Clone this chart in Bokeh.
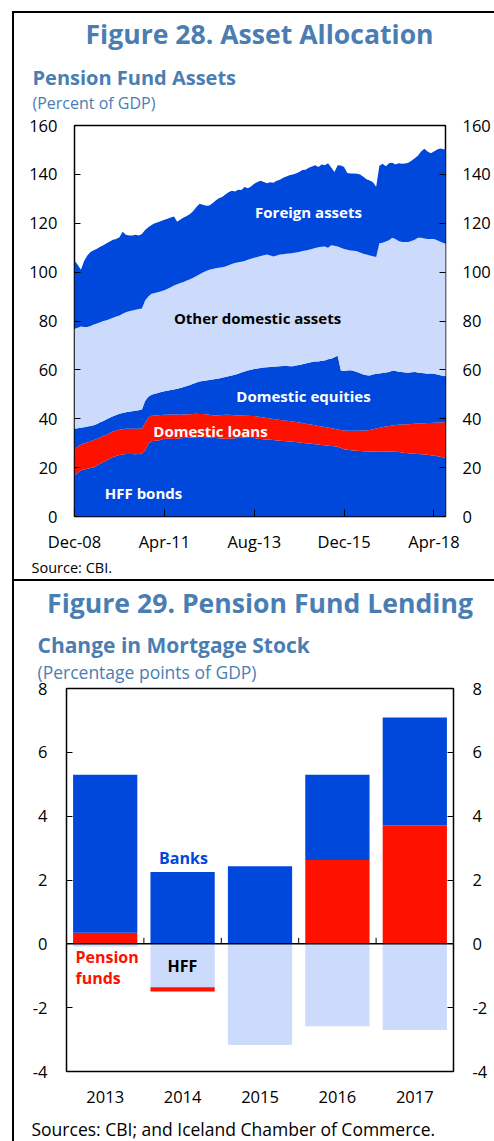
import numpy as np
from bokeh.plotting import figure
from bokeh.layouts import column
from bokeh.models import Range1d, LinearAxis, FixedTicker, Label, Span
from bokeh.embed import file_html
from bokeh.resources import INLINE

# ---------------- Figure 28 data (percent of GDP, stack boundaries, monthly Dec-08 .. Aug-18) -------------
months = list(range(117))
tick_months = [0, 28, 56, 84, 112]
tick_labels_28 = ["Dec-08", "Apr-11", "Aug-13", "Dec-15", "Apr-18"]

hff_top = [16.8, 17.8, 18.8, 19.2, 19.5, 19.8, 20.2, 20.9, 21.6, 22.3,
           22.9, 23.6, 24.3, 24.8, 25.2, 25.4, 25.6, 25.6, 25.6, 25.5,
           25.6, 25.8, 27.0, 29.7, 30.8, 31.0, 31.1, 31.4, 31.8, 31.8,
           31.8, 31.7, 31.8, 32.0, 32.1, 32.2, 32.2, 32.3, 32.4, 32.5,
           32.5, 32.4, 32.3, 32.2, 32.1, 32.0, 31.9, 31.8, 31.8, 31.9,
           32.0, 32.1, 32.2, 32.2, 32.1, 32.1, 32.1, 31.8, 31.7, 31.6,
           31.5, 31.4, 31.3, 31.1, 31.0, 30.9, 30.8, 30.7, 30.6, 30.5,
           30.3, 30.2, 30.0, 29.9, 29.8, 29.6, 29.5, 29.3, 29.2, 29.0,
           28.9, 28.7, 28.5, 28.0, 27.5, 27.3, 27.1, 27.0, 26.9, 26.8,
           26.7, 26.6, 26.6, 26.6, 26.5, 26.5, 26.6, 26.6, 26.6, 26.5,
           26.5, 26.4, 26.2, 26.0, 25.9, 25.8, 25.7, 25.6, 25.5, 25.4,
           25.3, 25.1, 25.0, 24.7, 24.4, 24.1, 24.0]

loans_top = [27.5, 28.5, 29.5, 30.0, 30.3, 30.8, 31.3, 31.8, 32.3, 33.0,
             33.5, 34.2, 34.8, 35.2, 35.5, 35.7, 35.9, 35.9, 35.9, 35.9,
             35.9, 36.0, 38.3, 40.5, 41.2, 41.3, 41.4, 41.5, 41.6, 41.6,
             41.7, 41.7, 41.7, 41.6, 41.7, 41.8, 41.8, 41.9, 42.0, 41.9,
             41.9, 41.8, 41.6, 41.4, 41.3, 41.4, 41.5, 41.6, 41.6, 41.5,
             41.4, 41.3, 41.3, 41.2, 41.2, 41.1, 41.1, 40.9, 40.7, 40.5,
             40.3, 40.1, 39.9, 39.7, 39.5, 39.4, 39.2, 39.1, 38.9, 38.7,
             38.5, 38.3, 38.0, 37.8, 37.5, 37.3, 37.0, 36.8, 36.6, 36.4,
             36.1, 35.9, 35.6, 35.4, 35.2, 35.1, 35.1, 35.1, 35.1, 35.1,
             35.2, 35.2, 35.4, 35.7, 36.0, 36.3, 36.6, 36.8, 37.0, 37.2,
             37.4, 37.5, 37.6, 37.7, 37.8, 37.9, 38.0, 38.1, 38.2, 38.2,
             38.3, 38.3, 38.4, 38.5, 38.5, 38.6, 38.6]

equities_top = [35.9, 36.1, 36.3, 36.5, 36.8, 37.0, 37.3, 37.9, 38.6, 39.1,
                39.8, 40.4, 41.0, 41.5, 42.0, 42.4, 42.7, 42.9, 43.1, 43.3,
                43.5, 43.8, 47.3, 49.0, 49.8, 50.2, 50.5, 50.9, 51.3, 51.5,
                51.8, 52.0, 52.3, 52.6, 53.0, 53.4, 53.8, 54.3, 54.8, 55.2,
                55.4, 55.7, 55.9, 56.1, 56.3, 56.5, 56.8, 57.1, 57.4, 57.7,
                58.0, 58.4, 58.9, 59.3, 59.7, 60.1, 60.4, 60.6, 60.8, 61.0,
                61.1, 61.2, 61.3, 61.4, 61.5, 61.6, 61.7, 61.5, 61.5, 61.8,
                62.0, 62.3, 62.6, 62.9, 63.2, 63.4, 63.4, 63.7, 63.8, 64.3,
                64.6, 65.2, 65.8, 59.7, 59.5, 59.7, 59.8, 59.5, 59.1, 58.6,
                58.1, 57.8, 57.7, 58.1, 58.4, 58.5, 58.7, 58.9, 59.1, 59.6,
                59.5, 59.2, 59.1, 58.9, 58.8, 59.0, 59.1, 58.9, 58.7, 58.6,
                58.4, 58.5, 58.4, 58.1, 57.8, 57.5, 57.4]

other_top = [76.8, 77.2, 77.8, 77.5, 77.5, 78.0, 78.6, 79.0, 79.5, 80.0,
             80.3, 80.8, 81.3, 81.8, 82.3, 83.0, 83.6, 84.0, 84.3, 84.6,
             84.9, 85.1, 88.4, 90.0, 91.1, 91.5, 91.8, 92.2, 92.6, 93.2,
             93.8, 94.5, 95.0, 95.5, 96.0, 96.6, 97.1, 97.7, 98.4, 99.1,
             99.8, 100.5, 101.0, 101.3, 101.6, 101.8, 102.0, 102.3, 102.8, 103.3,
             103.7, 104.0, 104.2, 104.6, 105.1, 105.5, 105.9, 106.2, 106.6, 106.9,
             107.2, 106.8, 106.4, 106.8, 107.2, 107.3, 107.5, 107.6, 107.8, 108.0,
             108.2, 108.6, 108.9, 109.2, 109.5, 109.9, 110.2, 110.4, 110.5, 110.0,
             111.0, 110.8, 110.5, 110.0, 109.5, 109.2, 108.9, 108.7, 108.5, 108.0,
             107.5, 107.2, 106.8, 106.5, 106.2, 111.8, 112.0, 112.5, 113.0, 114.1,
             113.6, 112.7, 112.3, 112.3, 112.3, 112.7, 113.2, 114.1, 114.1, 113.8,
             113.6, 113.6, 113.6, 113.0, 112.4, 111.9, 111.7]

foreign_top = [104.8, 103.0, 101.0, 104.6, 106.8, 108.2, 109.0, 109.6, 110.4, 111.0,
               111.8, 112.5, 113.2, 113.6, 114.3, 116.5, 115.3, 115.0, 115.0, 115.3,
               115.0, 115.6, 117.2, 118.4, 119.3, 120.0, 120.4, 120.9, 121.4, 121.8,
               122.4, 122.8, 120.6, 121.5, 122.4, 123.0, 123.8, 125.0, 126.6, 128.0,
               127.6, 127.2, 127.3, 128.2, 129.3, 130.2, 130.7, 131.8, 132.7, 133.3,
               133.0, 133.7, 133.6, 134.8, 134.3, 135.0, 136.2, 136.9, 137.4, 136.9,
               136.4, 136.8, 136.6, 137.4, 137.8, 138.6, 139.1, 139.6, 140.0, 140.4,
               141.0, 141.8, 141.9, 142.7, 143.2, 143.7, 143.0, 144.0, 143.7, 144.6,
               142.8, 141.0, 143.7, 143.6, 143.0, 140.6, 140.4, 140.4, 140.3, 140.0,
               139.0, 138.0, 137.5, 136.8, 134.9, 143.5, 144.3, 143.3, 144.6, 144.8,
               144.0, 144.6, 144.3, 144.4, 144.8, 145.6, 146.6, 147.6, 149.4, 150.5,
               149.4, 148.6, 149.4, 150.2, 150.6, 150.3, 150.2]

layer_names = ["HFF bonds", "Domestic loans", "Domestic equities",
               "Other domestic assets", "Foreign assets"]

# ---------------- Figure 29 data (percentage points of GDP) ----------------
years = ["2013", "2014", "2015", "2016", "2017"]
banks = [4.95, 2.25, 2.43, 2.67, 3.38]
pension_funds = [0.35, -0.13, 0.0, 2.63, 3.71]
hff_change = [-0.08, -1.36, -3.17, -2.58, -2.70]
y_ticks_29 = [-4, -2, 0, 2, 4, 6, 8]

# ---------------- styling ----------------
BLUE = "#0047DC"
RED = "#FF1100"
LIGHT = "#CCDBFB"
TITLE = "#4A7EB3"
FONT = "Open Sans"
W = 494
H1, H2 = 579, 562


def add_label(p, side, x, y, text, size, color, align="center", bold=True):
    lab = Label(x=x, y=y, text=text, text_font=FONT, text_font_size=size,
                text_color=color, text_align=align, text_baseline="middle",
                text_font_style="bold" if bold else "normal")
    if side is None:
        p.add_layout(lab)
    else:
        p.add_layout(lab, side)


def style_axes(p, size, standoff):
    for ax in p.yaxis + p.xaxis:
        ax.axis_line_color = None
        ax.major_label_text_font = FONT
        ax.major_label_text_font_size = size
        ax.major_label_text_color = "black"
        ax.minor_tick_line_color = None
        ax.major_tick_in = 6
        ax.major_tick_out = 0
        ax.major_tick_line_color = "black"
        ax.major_tick_line_width = 1
        ax.major_label_standoff = standoff


def frame_lines(top_y, height):
    # black panel border (left edge and top edge) drawn behind the canvas border area
    return {
        "background-image": "linear-gradient(#000,#000), linear-gradient(#000,#000)",
        "background-size": "2px %dpx, %dpx 2px" % (height, W),
        "background-position": "12px %dpx, 12px %dpx" % (top_y, top_y),
        "background-repeat": "no-repeat",
    }


# ================= Figure 28 =================
p1 = figure(width=W, height=H1, x_range=Range1d(0, 115.6), y_range=Range1d(0, 160),
            output_backend="svg", toolbar_location=None, tools="",
            min_border_left=74, min_border_right=49, min_border_top=125, min_border_bottom=63)
p1.frame_align = False
p1.border_fill_color = None
p1.styles = frame_lines(11, H1)
p1.grid.visible = False
p1.outline_line_color = "black"
p1.outline_line_width = 1.5
p1.add_layout(LinearAxis(), "right")
p1.yaxis.ticker = FixedTicker(ticks=[0, 20, 40, 60, 80, 100, 120, 140, 160])
p1.xaxis.ticker = FixedTicker(ticks=tick_months)
p1.xaxis.major_label_overrides = {m: t for m, t in zip(tick_months, tick_labels_28)}
style_axes(p1, "16.5px", 17)
p1.xaxis.major_tick_in = 7
p1.xaxis.major_label_standoff = 13

bounds = [[0.0] * len(months), hff_top, loans_top, equities_top, other_top, foreign_top]
layer_colors = [BLUE, RED, BLUE, LIGHT, BLUE]
for lo, hi, c in zip(bounds[:-1], bounds[1:], layer_colors):
    p1.varea(x=months, y1=lo, y2=hi, fill_color=c)


def fx1(px):
    return (px - 74) / 371 * 115.6


def fy1(py):
    return (516 - py) / 391 * 160


add_label(p1, "above", fx1(259), fy1(33), "Figure 28. Asset Allocation", "26.6px", TITLE)
add_label(p1, "above", fx1(32), fy1(77), "Pension Fund Assets", "20px", TITLE, align="left")
add_label(p1, "above", fx1(32), fy1(102), "(Percent of GDP)", "16px", TITLE, align="left", bold=False)
add_label(p1, "below", fx1(31), fy1(567), "Source: CBI.", "14.5px", "black", align="left", bold=False)
label_pos_28 = [(143, 492, "white"), (210, 430, "white"), (303, 395, "white"),
                (257, 317, "black"), (308, 211, "white")]
for name, (px, py, col) in zip(layer_names, label_pos_28):
    add_label(p1, None, fx1(px), fy1(py), name, "15px", col)

# ================= Figure 29 =================
p2 = figure(width=W, height=H2, x_range=Range1d(-0.5, 4.5), y_range=Range1d(-4, 8),
            output_backend="svg", toolbar_location=None, tools="",
            min_border_left=66, min_border_right=41, min_border_top=109, min_border_bottom=70)
p2.frame_align = False
p2.border_fill_color = None
p2.styles = frame_lines(0, H2)
p2.grid.visible = False
p2.outline_line_color = "black"
p2.outline_line_width = 1.5
p2.add_layout(LinearAxis(), "right")
p2.yaxis.ticker = FixedTicker(ticks=y_ticks_29)
p2.yaxis.major_label_overrides = {t: str(t) for t in y_ticks_29}
p2.xaxis.ticker = FixedTicker(ticks=list(range(len(years))))
p2.xaxis.major_label_overrides = {i: y for i, y in enumerate(years)}
style_axes(p2, "16.5px", 19)
p2.xaxis.major_tick_line_color = None
p2.xaxis.major_label_standoff = 19

idx = np.arange(len(years))
pf = np.array(pension_funds)
bk = np.array(banks)
hf = np.array(hff_change)
pf_pos = np.clip(pf, 0, None)
pf_neg = np.clip(pf, None, 0)
BW = 0.83
p2.vbar(x=idx, width=BW, bottom=0, top=pf_pos, fill_color=RED, line_color=None)
p2.vbar(x=idx, width=BW, bottom=pf_pos, top=pf_pos + bk, fill_color=BLUE, line_color=None)
p2.vbar(x=idx, width=BW, bottom=0, top=hf, fill_color=LIGHT, line_color=None)
p2.vbar(x=idx, width=BW, bottom=hf, top=hf + pf_neg, fill_color=RED, line_color=None)
p2.add_layout(Span(location=0, dimension="width", line_color="black", line_width=1.5))
sep = idx[:-1] + 0.5
p2.segment(x0=sep, x1=sep, y0=0, y1=0.19, line_color="black", line_width=1)


def fx2(px):
    return (px - 66) / 387 * 5 - 0.5


def fy2(py):
    return 8 - (py - 688) / 383 * 12


add_label(p2, "above", fx2(259.5), fy2(602), "Figure 29. Pension Fund Lending", "26.6px", TITLE)
add_label(p2, "above", fx2(37), fy2(644), "Change in Mortgage Stock", "21px", TITLE, align="left")
add_label(p2, "above", fx2(37), fy2(671), "(Percentage points of GDP)", "17.5px", TITLE, align="left", bold=False)
add_label(p2, "below", fx2(31), fy2(1128), "Sources: CBI; and Iceland Chamber of Commerce.", "17.5px",
          "black", align="left", bold=False)
add_label(p2, None, fx2(183), fy2(857), "Banks", "16px", BLUE)
add_label(p2, None, fx2(182), fy2(965), "HFF", "16px", "black")
add_label(p2, None, fx2(75), fy2(956), "Pension", "16px", RED, align="left")
add_label(p2, None, fx2(75), fy2(977), "funds", "16px", RED, align="left")

layout = column(p1, p2, spacing=0)
open("out.html", "w").write(file_html(layout, INLINE))
